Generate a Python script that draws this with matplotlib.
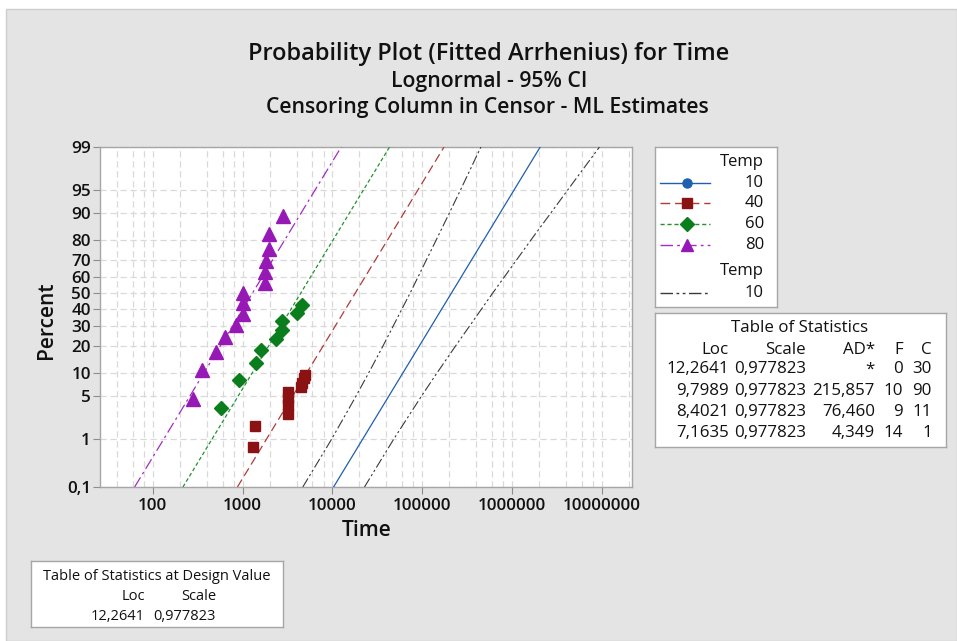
import math
import numpy as np
import matplotlib
matplotlib.use("Agg")
import matplotlib.pyplot as plt
from matplotlib.patches import Rectangle
from matplotlib.ticker import FixedLocator, FixedFormatter, NullFormatter, NullLocator
from statistics import NormalDist

# ---------------- data ----------------
temps = ["10", "40", "60", "80"]
loc_values = [12.2641, 9.7989, 8.4021, 7.1635]
scale_value = 0.977823
loc_text = ["12,2641", "9,7989", "8,4021", "7,1635"]
scale_text = "0,977823"
ad_text = ["*", "215,857", "76,460", "4,349"]
fail_counts = [0, 10, 9, 14]
cens_counts = [30, 90, 11, 1]

t40 = [1299, 1378, 3170, 3190, 3210, 3240, 4480, 4600, 4780, 4970]
p40 = [0.7, 1.7, 2.7, 3.7, 4.7, 5.7, 6.7, 7.7, 8.7, 9.7]

t60 = [572, 921, 1413, 1607, 2360, 2734, 2780, 4014, 4564]
p60 = [3.4, 8.3, 13.2, 18.1, 23.0, 27.9, 32.8, 37.7, 42.6]

t80 = [279, 357, 507, 639, 840, 1010, 1021, 1021, 1767, 1767, 1841, 1972, 1972, 2803]
p80 = [4.5, 11.0, 17.5, 24.0, 30.5, 37.0, 43.5, 50.0, 56.5, 63.0, 69.5, 76.0, 82.5, 89.0]

# 95% CI band for Temp 10 (design value)
ci_pct = [0.1, 1, 5, 10, 20, 50, 80, 90, 95, 99]
ci_lower = [4690, 9840, 18300, 25200, 36700, 73500, 143000, 202000, 268000, 451000]
ci_upper = [22800, 48300, 98100, 145000, 236000, 611000, 1620000, 2730000, 4190000, 9430000]

pct_ticks = [0.1, 1, 5, 10, 20, 30, 40, 50, 60, 70, 80, 90, 95, 99]
pct_labels = ["0,1", "1", "5", "10", "20", "30", "40", "50", "60", "70", "80", "90", "95", "99"]
time_ticks = [100, 1000, 10000, 100000, 1000000, 10000000]
time_labels = ["100", "1000", "10000", "100000", "1000000", "10000000"]
fit_pct_range = [0.1, 99]

# ---------------- style ----------------
W, H, DPI = 957, 641, 100
FONT = ["Open Sans", "DejaVu Sans"]
plt.rcParams["font.family"] = FONT

c10 = "#1f5fb0"
c40_line, c40_mk = "#b03a3a", "#8b1212"
c60_line, c60_mk = "#22922f", "#0a7d1c"
c80_line, c80_mk = "#a72bc4", "#9618b5"
c_ci = "#3a3a3a"

ls10 = "-"
ls40 = (0, (7, 3.5))
ls60 = (0, (3, 2))
ls80 = (0, (9, 3, 2, 3))
ls_ci = (0, (9, 2.5, 2, 2.5, 2, 2.5))

_nd = NormalDist()
_ppf = np.vectorize(lambda q: _nd.inv_cdf(q), otypes=[float])
_erf = np.vectorize(math.erf, otypes=[float])


def probit(p):
    p = np.asarray(p, dtype=float)
    q = np.clip(p / 100.0, 1e-12, 1 - 1e-12)
    return _ppf(q)


def inv_probit(z):
    z = np.asarray(z, dtype=float)
    return 100.0 * 0.5 * (1.0 + _erf(z / math.sqrt(2.0)))


def fx(x):
    return x / W


def fy(y):
    return 1 - y / H


fig = plt.figure(figsize=(W / DPI, H / DPI), dpi=DPI)
fig.patch.set_facecolor("white")
fig.patches.append(Rectangle((fx(6), 0), 1 - fx(6), fy(9), transform=fig.transFigure,
                             facecolor="#e4e4e4", edgecolor="#cdcdcd", lw=1.0, zorder=-10))

# ---------------- main axes ----------------
ax = fig.add_axes([fx(100), fy(487), (632 - 100) / W, (487 - 147) / H])
ax.set_facecolor("white")
ax.set_xscale("log")
ax.set_yscale("function", functions=(probit, inv_probit))
ax.set_xlim(25.9, 2.17e7)
ax.set_ylim(0.1, 99)

# fitted lines
pr = np.array(fit_pct_range)
zr = probit(pr)
styles = [(c10, ls10), (c40_line, ls40), (c60_line, ls60), (c80_line, ls80)]
for loc, (col, ls) in zip(loc_values, styles):
    ax.plot(np.exp(loc + scale_value * zr), pr, color=col, ls=ls, lw=0.9, zorder=3)

# CI for design value
ax.plot(ci_lower, ci_pct, color=c_ci, ls=ls_ci, lw=0.8, zorder=3)
ax.plot(ci_upper, ci_pct, color=c_ci, ls=ls_ci, lw=0.8, zorder=3)

# points
ax.plot(t40, p40, ls="none", marker="s", ms=7.4, color=c40_mk, mec=c40_mk, zorder=4)
ax.plot(t60, p60, ls="none", marker="D", ms=7.4, color=c60_mk, mec=c60_mk, zorder=4)
ax.plot(t80, p80, ls="none", marker="^", ms=10, color=c80_mk, mec=c80_mk, zorder=4)

# ticks & grid
ax.yaxis.set_major_locator(FixedLocator(pct_ticks))
ax.yaxis.set_major_formatter(FixedFormatter(pct_labels))
ax.yaxis.set_minor_locator(NullLocator())
ax.xaxis.set_major_locator(FixedLocator(time_ticks))
ax.xaxis.set_major_formatter(FixedFormatter(time_labels))
minor = [m * 10 ** k for k in range(1, 8) for m in (2, 4, 6, 8)]
ax.xaxis.set_minor_locator(FixedLocator(minor))
ax.xaxis.set_minor_formatter(NullFormatter())
ax.tick_params(axis="both", which="major", length=5, width=0.8, color="#8c8c8c",
               labelsize=12.3, pad=1.5, labelcolor="#111111")
ax.tick_params(axis="x", which="major", pad=3)
ax.tick_params(axis="x", which="minor", length=0)
for lab in ax.get_xticklabels() + ax.get_yticklabels():
    lab.set_fontweight("semibold")
gkw = dict(color="#d9d9d9", ls=(0, (5, 3)), lw=0.9)
ax.grid(True, which="major", axis="both", **gkw)
ax.grid(True, which="minor", axis="x", **gkw)
ax.set_axisbelow(True)
for s in ax.spines.values():
    s.set_color("#a6a6a6")
    s.set_linewidth(1.0)

# titles / labels
tc = "#111111"
fig.text(fx(489), fy(53.5), "Probability Plot (Fitted Arrhenius) for Time", ha="center", va="center",
         fontsize=17, fontweight="semibold", color=tc)
fig.text(fx(489), fy(81.5), "Lognormal - 95% CI", ha="center", va="center",
         fontsize=15.3, fontweight="semibold", color=tc)
fig.text(fx(487), fy(108), "Censoring Column in Censor - ML Estimates", ha="center", va="center",
         fontsize=15.2, fontweight="semibold", color=tc)
fig.text(fx(47), fy(320), "Percent", rotation=90, ha="center", va="center",
         fontsize=15, fontweight="semibold", color=tc)
fig.text(fx(367), fy(530), "Time", ha="center", va="center",
         fontsize=15, fontweight="semibold", color=tc)


def box_axes(x0, y0, x1, y1):
    b = fig.add_axes([fx(x0), fy(y1), (x1 - x0) / W, (y1 - y0) / H])
    b.set_xlim(x0, x1)
    b.set_ylim(y1, y0)
    b.set_facecolor("white")
    b.set_xticks([])
    b.set_yticks([])
    for s in b.spines.values():
        s.set_color("#a6a6a6")
        s.set_linewidth(1.0)
    return b


# ---------------- legend ----------------
lg = box_axes(655, 147, 777, 307)
tkw = dict(fontsize=12, color=tc, va="center")
lg.text(764, 161.5, "Temp", ha="right", **tkw)
rows_y = [182.7, 203.3, 223.7, 245]
leg_styles = [(c10, ls10, "o", c10, 6.5), (c40_line, ls40, "s", c40_mk, 7),
              (c60_line, ls60, "D", c60_mk, 7.4), (c80_line, ls80, "^", c80_mk, 9)]
for yy, t, (col, ls, mk, mcol, ms) in zip(rows_y, temps, leg_styles):
    lg.plot([660, 710], [yy, yy], color=col, ls=ls, lw=1.0)
    lg.plot([686.7], [yy], marker=mk, ms=ms, color=mcol, ls="none")
    lg.text(764, yy, t, ha="right", **tkw)
lg.text(764, 271, "Temp", ha="right", **tkw)
lg.plot([660, 710], [292.7, 292.7], color=c_ci, ls=ls_ci, lw=1.0)
lg.text(764, 292.7, temps[0], ha="right", **tkw)

# ---------------- table of statistics ----------------
tb = box_axes(655, 313, 946, 447)
skw = dict(fontsize=12.2, color=tc, va="center")
tb.text(800, 328, "Table of Statistics", ha="center", **skw)
col_x = [729, 806, 875, 903, 932]
heads = ["Loc", "Scale", "AD*", "F", "C"]
for cx, h in zip(col_x, heads):
    tb.text(cx, 350, h, ha="right", **skw)
row_y = [369.3, 390.7, 412.3, 432.7]
for ry, lt, at, fc, cc in zip(row_y, loc_text, ad_text, fail_counts, cens_counts):
    vals = [lt, scale_text, at, str(fc), str(cc)]
    for cx, v in zip(col_x, vals):
        tb.text(cx, ry, v, ha="right", **skw)

# ---------------- design value table ----------------
dv = box_axes(31, 561, 283, 627)
dkw = dict(fontsize=10.5, color=tc, va="center")
dv.text(157, 576.5, "Table of Statistics at Design Value", ha="center", **dkw)
dv.text(145, 596.5, "Loc", ha="right", **dkw)
dv.text(216, 596.5, "Scale", ha="right", **dkw)
dv.text(145, 616, loc_text[0], ha="right", **dkw)
dv.text(216, 616, scale_text, ha="right", **dkw)

fig.savefig("out.png", dpi=DPI)
